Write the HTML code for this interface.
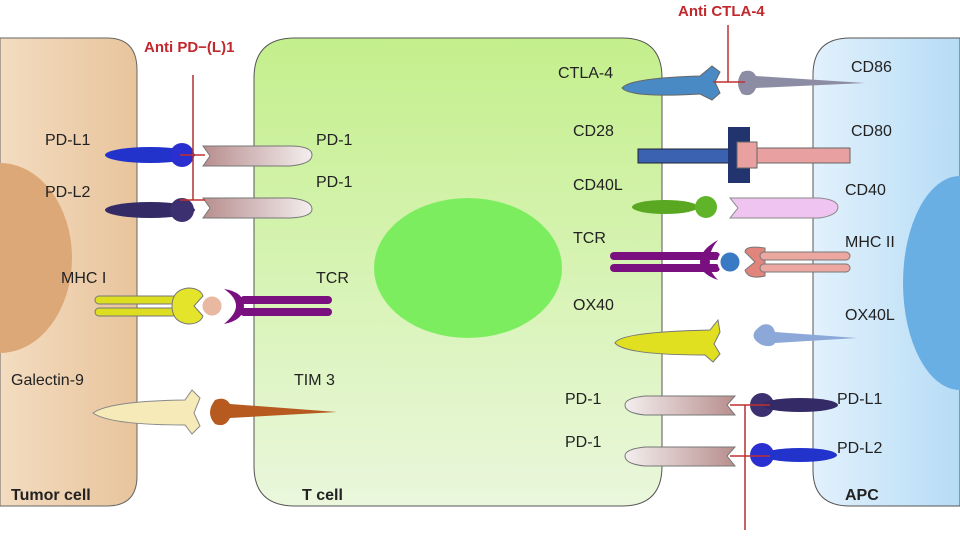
<!DOCTYPE html>
<html><head><meta charset="utf-8"><style>
body{margin:0;background:#fff}
svg{display:block}
text{font-family:"Liberation Sans",sans-serif;font-size:16px;fill:#222}
.b{font-weight:bold}
.r{fill:#c0282d;font-weight:bold;font-size:15px}
</style></head><body>
<svg width="960" height="540" viewBox="0 0 960 540">
<defs>
<linearGradient id="tum" x1="0" x2="1"><stop offset="0" stop-color="#f3dcc0"/><stop offset="1" stop-color="#e8c49c"/></linearGradient>
<linearGradient id="tc" x1="0" y1="0" x2="0" y2="1"><stop offset="0" stop-color="#c4ef8c"/><stop offset="1" stop-color="#eaf7dc"/></linearGradient>
<linearGradient id="apc" x1="0" x2="1"><stop offset="0" stop-color="#e2f1fc"/><stop offset="1" stop-color="#b6dcf6"/></linearGradient>
<linearGradient id="pd1" x1="0" x2="1"><stop offset="0" stop-color="#b88e8e"/><stop offset="1" stop-color="#f4eeee"/></linearGradient>
<linearGradient id="pd1r" x1="1" x2="0"><stop offset="0" stop-color="#b88e8e"/><stop offset="1" stop-color="#f4eeee"/></linearGradient>
</defs>
<path d="M0 38 H107 Q137 38 137 70 V476 Q137 506 107 506 H0 Z" fill="url(#tum)" stroke="#666" stroke-width="1"/>
<ellipse cx="0" cy="258" rx="72" ry="95" fill="#dca878"/>
<path d="M295 38 H622 Q662 38 662 78 V466 Q662 506 622 506 H295 Q254 506 254 466 V78 Q254 38 295 38 Z" fill="url(#tc)" stroke="#555" stroke-width="1"/>
<ellipse cx="468" cy="268" rx="94" ry="70" fill="#7ded60"/>
<path d="M960 38 H850 Q813 38 813 75 V470 Q813 506 850 506 H960 Z" fill="url(#apc)" stroke="#555" stroke-width="1"/>
<ellipse cx="960" cy="283" rx="57" ry="107" fill="#6aafe4"/>

<ellipse cx="150" cy="155" rx="45" ry="8" fill="#2233cc"/><circle cx="182" cy="155" r="12" fill="#2a30d0"/>
<path d="M203 146 H290 Q312 146 312 155 Q312 164 290 166 H203 L210 156 Z" fill="url(#pd1)" stroke="#777"/>
<ellipse cx="150" cy="210" rx="45" ry="8" fill="#332a66"/><circle cx="182" cy="210" r="12" fill="#3d3070"/>
<path d="M203 198 H290 Q312 200 312 209 Q312 217 290 218 H203 L210 208 Z" fill="url(#pd1)" stroke="#777"/>
<line x1="193" y1="75" x2="193" y2="200" stroke="#b03030" stroke-width="1.5"/>
<line x1="180" y1="155" x2="205" y2="155" stroke="#c03030" stroke-width="1.5"/>
<line x1="180" y1="200" x2="205" y2="200" stroke="#c03030" stroke-width="1.5"/>

<rect x="95" y="296" width="85" height="8" rx="4" fill="#dede20" stroke="#777"/>
<rect x="95" y="308" width="85" height="8" rx="4" fill="#dede20" stroke="#777"/>
<path d="M188 288 Q200 288 203 296 L194 306 L203 316 Q200 324 188 324 Q172 322 172 306 Q172 290 188 288 Z" fill="#e4e42a" stroke="#777"/>
<circle cx="212" cy="306" r="11" fill="#e8b8a0" stroke="#fff" stroke-width="3"/>
<path d="M224 289 Q244 292 244 306 Q244 320 224 324 Q236 314 236 306 Q236 297 224 289 Z" fill="#7a1080"/>
<rect x="240" y="296" width="92" height="8" rx="4" fill="#7a1080"/>
<rect x="240" y="308" width="92" height="8" rx="4" fill="#7a1080"/>

<path d="M93 413 Q110 401 185 400 L192 390 L200 398 L194 413 L200 426 L192 434 L185 425 Q110 425 93 413 Z" fill="#f5eab8" stroke="#888"/>
<path d="M215 400 Q225 396 230 404 L337 412 L230 418 Q225 428 215 424 Q205 413 215 400 Z" fill="#b75a20"/>

<path d="M622 88 Q630 78 700 76 L712 66 L720 72 L715 82 L720 93 L712 100 L700 94 Q630 98 622 88 Z" fill="#4a8ac4" stroke="#666"/>
<path d="M742 72 Q752 68 756 76 L865 83 L756 88 Q752 98 742 94 Q734 83 742 72 Z" fill="#8c8ca4"/>
<line x1="728" y1="25" x2="728" y2="82" stroke="#c03030" stroke-width="1.5"/>
<line x1="713" y1="82" x2="745" y2="82" stroke="#c03030" stroke-width="1.5"/>

<rect x="638" y="149" width="100" height="14" fill="#3a62b0" stroke="#223"/>
<rect x="728" y="127" width="22" height="56" fill="#22346e"/>
<rect x="737" y="142" width="20" height="26" fill="#e8a0a0" stroke="#666"/>
<rect x="757" y="148" width="93" height="15" fill="#e8a0a0" stroke="#666"/>

<ellipse cx="665" cy="207" rx="33" ry="7" fill="#5aa822"/><circle cx="706" cy="207" r="11" fill="#60b42a"/>
<path d="M730 198 H820 Q838 200 838 207 Q838 215 820 218 H730 L738 208 Z" fill="#f0c4f0" stroke="#888"/>

<rect x="610" y="252" width="110" height="8" rx="4" fill="#7a1080"/>
<rect x="610" y="264" width="110" height="8" rx="4" fill="#7a1080"/>
<path d="M718 240 Q700 250 700 262 Q700 274 718 280 Q708 270 710 262 Q708 252 718 240 Z" fill="#7a1080"/>
<circle cx="730" cy="262" r="11" fill="#3a7ac4" stroke="#fff" stroke-width="3"/>
<path d="M765 248 Q745 245 745 252 L755 262 L745 270 Q748 280 765 276 Z" fill="#e0847c" stroke="#777"/>
<rect x="760" y="252" width="90" height="8" rx="4" fill="#eca8a0" stroke="#777"/>
<rect x="760" y="264" width="90" height="8" rx="4" fill="#eca8a0" stroke="#777"/>

<path d="M615 343 Q620 332 710 330 L718 320 L720 332 L714 344 L720 354 L713 362 L705 355 Q625 355 615 343 Z" fill="#e0e020" stroke="#777"/>
<path d="M762 325 Q772 322 775 332 L857 338 L775 343 Q772 348 762 345 Q745 336 762 325 Z" fill="#8ca8d8"/>

<path d="M735 396 H645 Q625 398 625 405 Q625 413 645 415 H735 L727 405 Z" fill="url(#pd1r)" stroke="#777"/>
<circle cx="762" cy="405" r="12" fill="#3d3070"/><ellipse cx="800" cy="405" rx="38" ry="7" fill="#332a66"/>
<path d="M735 447 H645 Q625 449 625 456 Q625 464 645 466 H735 L727 456 Z" fill="url(#pd1r)" stroke="#777"/>
<circle cx="762" cy="455" r="12" fill="#2a30d0"/><ellipse cx="800" cy="455" rx="37" ry="7" fill="#2233cc"/>
<line x1="745" y1="405" x2="745" y2="530" stroke="#b03030" stroke-width="1.5"/>
<line x1="730" y1="405" x2="770" y2="405" stroke="#c03030" stroke-width="1.5"/>
<line x1="730" y1="456" x2="770" y2="456" stroke="#c03030" stroke-width="1.5"/>

<text x="144" y="52" class="r">Anti PD−(L)1</text>
<text x="678" y="16" class="r">Anti CTLA-4</text>
<text x="45" y="145">PD-L1</text>
<text x="45" y="197">PD-L2</text>
<text x="61" y="283">MHC I</text>
<text x="11" y="385">Galectin-9</text>
<text x="11" y="500" class="b">Tumor cell</text>
<text x="316" y="145">PD-1</text>
<text x="316" y="187">PD-1</text>
<text x="316" y="283">TCR</text>
<text x="294" y="385">TIM 3</text>
<text x="302" y="500" class="b">T cell</text>
<text x="558" y="78">CTLA-4</text>
<text x="573" y="136">CD28</text>
<text x="573" y="190">CD40L</text>
<text x="573" y="243">TCR</text>
<text x="573" y="310">OX40</text>
<text x="565" y="404">PD-1</text>
<text x="565" y="447">PD-1</text>
<text x="851" y="72">CD86</text>
<text x="851" y="136">CD80</text>
<text x="845" y="195">CD40</text>
<text x="845" y="247">MHC II</text>
<text x="845" y="320">OX40L</text>
<text x="837" y="404">PD-L1</text>
<text x="837" y="453">PD-L2</text>
<text x="845" y="500" class="b">APC</text>
</svg>
</body></html>
